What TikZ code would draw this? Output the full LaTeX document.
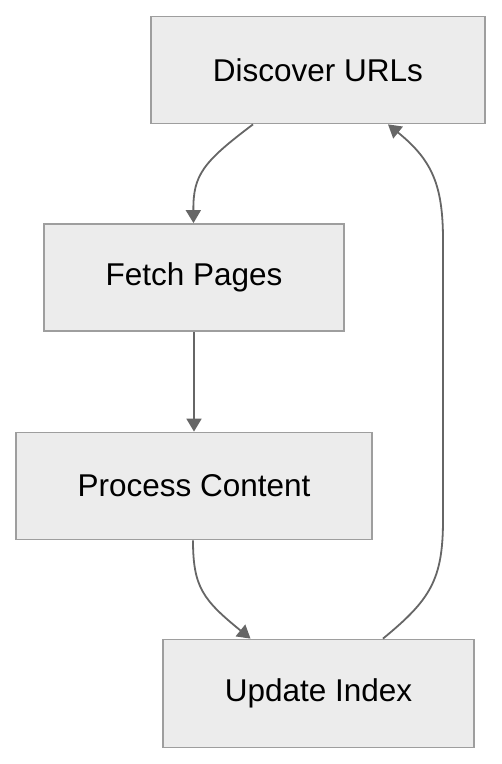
\documentclass[tikz,border=0pt]{standalone}
\usepackage{fontspec}
\setmainfont{Liberation Sans}
\usetikzlibrary{arrows.meta}
\definecolor{boxfill}{HTML}{ECECEC}
\definecolor{boxline}{HTML}{9E9E9E}
\definecolor{edgecol}{HTML}{666666}
\tikzset{
  stepbox/.style={draw=boxline, fill=boxfill, line width=1.8pt, rectangle,
    minimum height=107pt, inner sep=0pt,
    font=\fontsize{31.5}{36}\selectfont},
  flow/.style={draw=edgecol, line width=1.8pt,
    -{Triangle[length=13pt,width=15pt]}}
}
\begin{document}
\begin{tikzpicture}[x=1pt,y=-1pt]
\useasboundingbox (0,0) rectangle (502,764);
\node[stepbox, minimum width=334pt] (d) at (318,70) {Discover URLs};
\node[stepbox, minimum width=300pt] (f) at (194,277.5) {Fetch Pages};
\node[stepbox, minimum width=356pt] (p) at (194,486) {Process Content};
\node[stepbox, minimum width=311pt, minimum height=108pt] (u) at (318.5,693.5) {Update Index};

\draw[flow] ([xshift=-65pt]d.south) .. controls (203,162) and (193,175) .. ([xshift=-0.5pt]f.north);
\draw[flow] (f.south) -- (p.north);
\draw[flow] ([xshift=-1pt]p.south) .. controls (193,587) and (203,600) .. ([xshift=-68pt]u.north);
\draw[flow] ([xshift=64.5pt]u.north) .. controls (430,600) and (443,580) .. (443,520)
  -- (443,240) .. controls (443,185) and (432,160) .. ([xshift=70pt]d.south);
\end{tikzpicture}
\end{document}
